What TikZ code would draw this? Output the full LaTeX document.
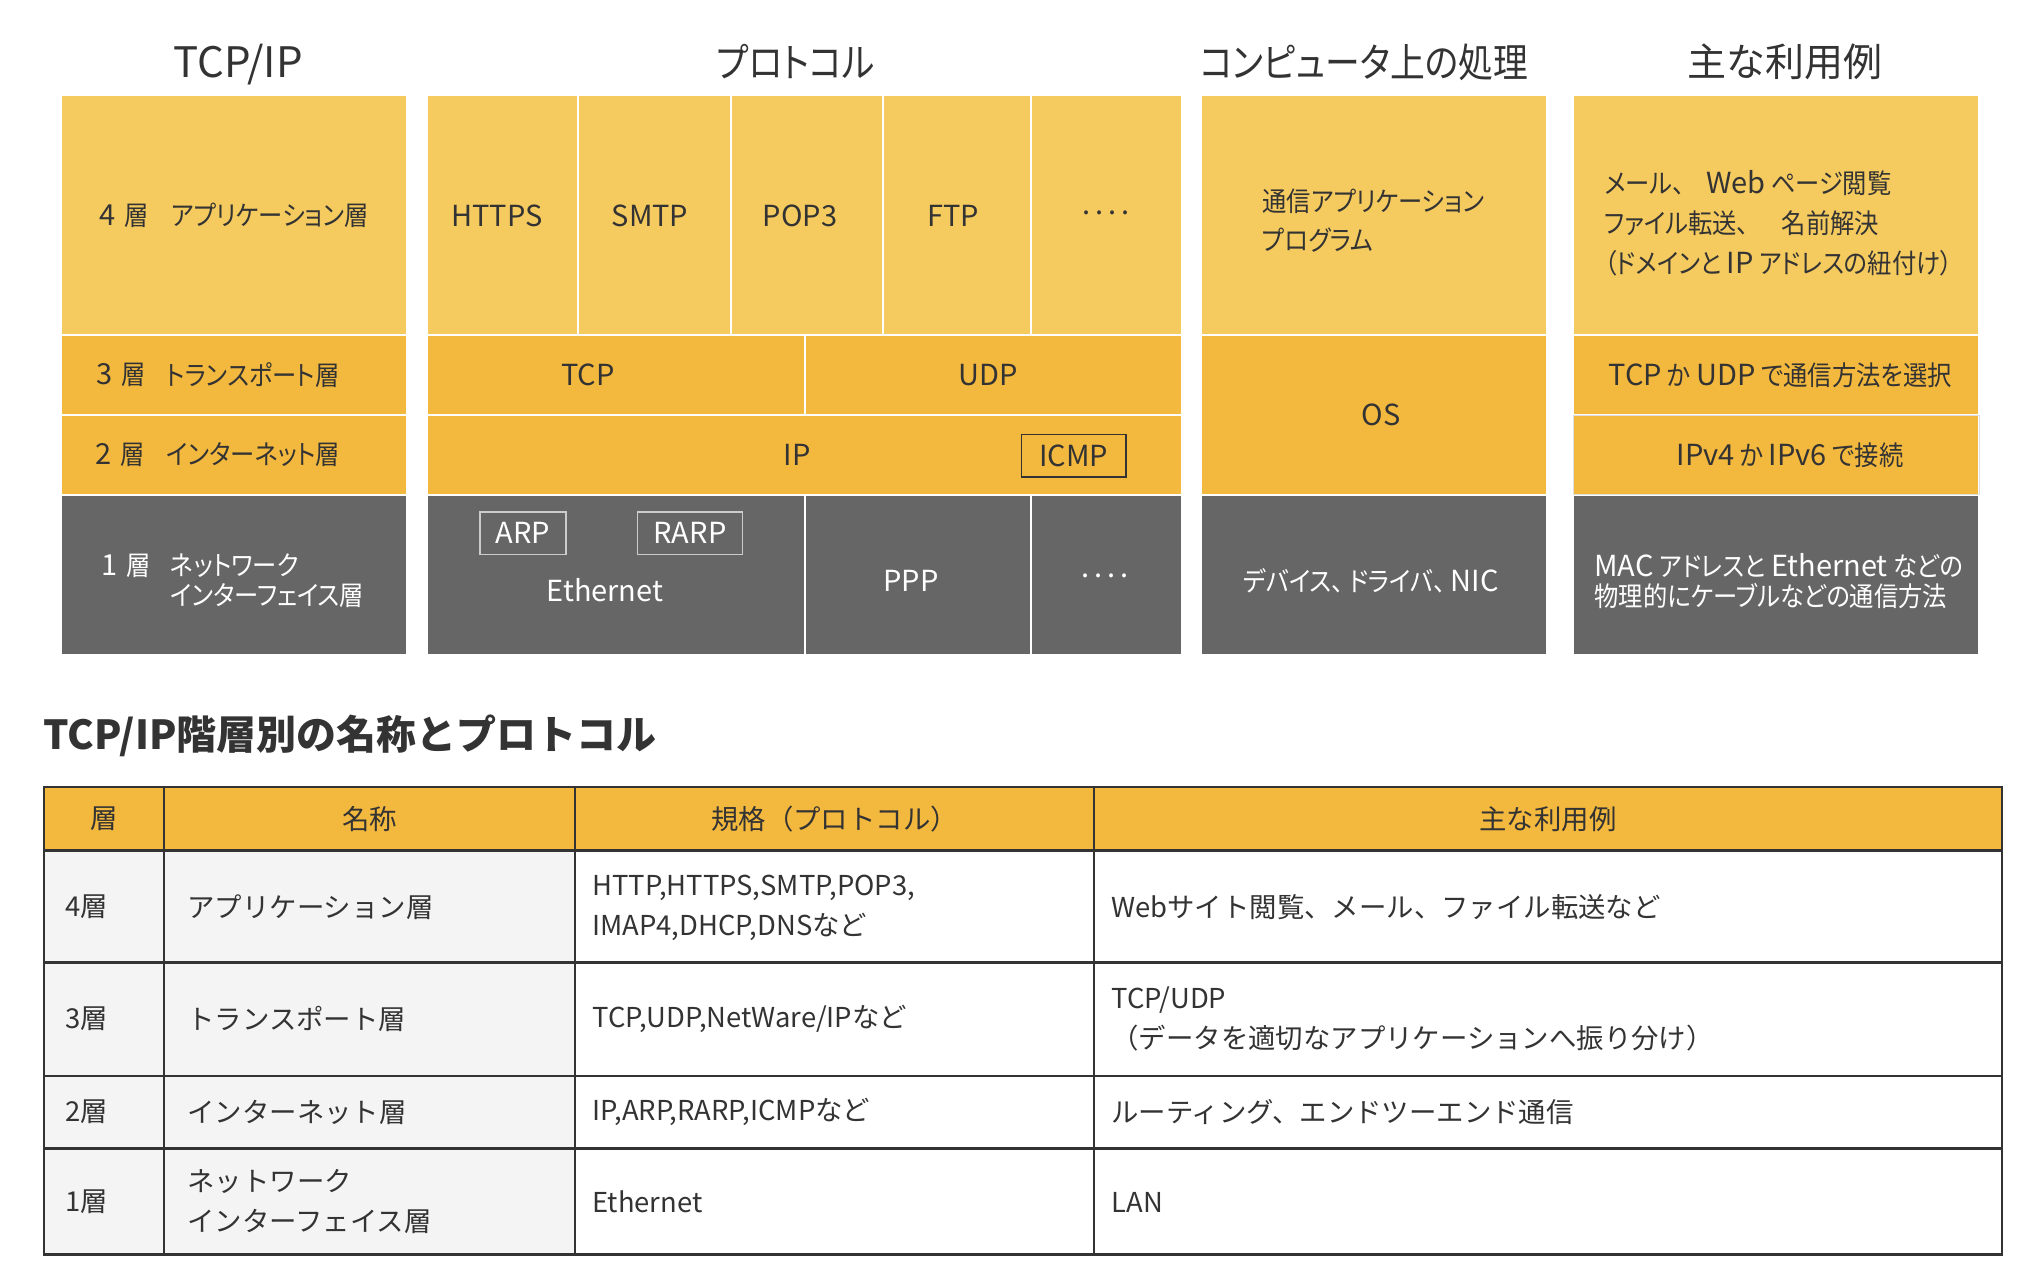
\documentclass[tikz,border=0pt]{standalone}
\usepackage{fontspec}
\setmainfont{Noto Sans CJK JP}
\newfontfamily\jpp[RawFeature=+palt,FakeStretch=0.9]{Noto Sans CJK JP}
\newfontfamily\jpt[RawFeature=+palt,FakeStretch=0.87]{Noto Sans CJK JP}
\newfontfamily\jpq[RawFeature=+palt]{Noto Sans CJK JP}
\newfontfamily\latf{Noto Sans CJK JP}
\newcommand\lat[1]{{\latf\fontsize{14.5}{17}\selectfont #1}}
\definecolor{lightY}{HTML}{F5CB60}
\definecolor{midY}{HTML}{F3B83E}
\definecolor{grayC}{HTML}{666666}
\definecolor{txtC}{HTML}{333333}
\definecolor{tabline}{HTML}{333333}
\definecolor{rowgray}{HTML}{F4F4F4}
\newcommand\cellbox[7]{%
  \node[#6,minimum width={(#4-#2)*0.5pt},minimum height={(#5-#3)*0.5pt}] (#1) at ({(#2+#4)/2},{(#3+#5)/2}) {#7};}
\begin{document}
\begin{tikzpicture}[x=0.5pt,y=-0.5pt,
  cellbase/.style={inner sep=0pt,outer sep=0pt,draw=white,line width=1pt},
  lightcell/.style={cellbase,fill=lightY},
  midcell/.style={cellbase,fill=midY},
  darkcell/.style={cellbase,fill=grayC},
  lbl/.style={inner sep=0pt,text=txtC,font=\jpp\fontsize{13.5}{16.2}\selectfont},
  wlbl/.style={lbl,text=white},
  latlbl/.style={inner sep=0pt,text=txtC,font=\latf\fontsize{14.5}{17}\selectfont},
  wlatlbl/.style={latlbl,text=white},
  ttl/.style={inner sep=0pt,text=txtC,font=\jpt\fontsize{20}{24}\selectfont},
  tagbox/.style={latlbl,draw=txtC,line width=0.75pt},
  wtagbox/.style={wlatlbl,draw=gray!40,line width=0.75pt},
  tabcell/.style={inner sep=0pt,outer sep=0pt,draw=tabline,line width=1.25pt},
  tabtxt/.style={inner sep=0pt,text=txtC,font=\fontsize{13.7}{20}\selectfont,align=left,anchor=west},
  tabhead/.style={inner sep=0pt,text=txtC,font=\fontsize{13.7}{20}\selectfont}]
\useasboundingbox[fill=white] (0,0) rectangle (2028,1274);

% titles
\node[latlbl,font=\latf\fontsize{21}{24}\selectfont] (t1) at (238,65) {TCP/IP};
\node[ttl] (t2) at (796,62) {プロトコル};
\node[ttl] (t3) at (1364,62) {コンピュータ上の処理};
\node[ttl,font=\jpq\fontsize{19.5}{24}\selectfont] (t4) at (1785,62) {主な利用例};

% column A
\cellbox{a4}{61}{95}{407}{335}{lightcell}{}
\cellbox{a3}{61}{335}{407}{415}{midcell}{}
\cellbox{a2}{61}{415}{407}{494.5}{midcell}{}
\cellbox{a1}{61}{494.5}{407}{654.5}{darkcell}{}
\node[lbl,anchor=west] (a4n) at (99,215.5) {\lat{4}\hspace{0.35em}層};
\node[lbl,anchor=west] (a4t) at (171,215.5) {アプリケーション層};
\node[lbl,anchor=west] (a3n) at (96,375) {\lat{3}\hspace{0.35em}層};
\node[lbl,anchor=west] (a3t) at (166,375) {トランスポート層};
\node[lbl,anchor=west] (a2n) at (95,455) {\lat{2}\hspace{0.35em}層};
\node[lbl,anchor=west] (a2t) at (166,455) {インターネット層};
\node[wlbl,anchor=west] (a1n) at (101,566) {\lat{1}\hspace{0.35em}層};
\node[wlbl,anchor=west,align=left,font=\jpp\fontsize{13.5}{15}\selectfont] (a1t) at (170,581) {ネットワーク\\インターフェイス層};

% column B
\cellbox{p1}{427}{95}{578}{335}{lightcell}{}
\cellbox{p2}{578}{95}{731}{335}{lightcell}{}
\cellbox{p3}{731}{95}{883}{335}{lightcell}{}
\cellbox{p4}{883}{95}{1031}{335}{lightcell}{}
\cellbox{p5}{1031}{95}{1182}{335}{lightcell}{}
\node[latlbl] (p1t) at (497,215.5) {HTTPS};
\node[latlbl] (p2t) at (650,215.5) {SMTP};
\node[latlbl] (p3t) at (800,215.5) {POP3};
\node[latlbl] (p4t) at (953,215.5) {FTP};
\node[latlbl] (p5t) at (1106,212.5) {.\,.\,.\,.};
\cellbox{tcp}{427}{335}{805}{415}{midcell}{}
\cellbox{udp}{805}{335}{1182}{415}{midcell}{}
\node[latlbl] (tcpt) at (588,375) {TCP};
\node[latlbl] (udpt) at (988,375) {UDP};
\cellbox{ip}{427}{415}{1182}{494.5}{midcell}{}
\node[latlbl] (ipt) at (797,455) {IP};
\node[tagbox,minimum width=52.25pt,minimum height=21.25pt] (icmp) at (1073.75,455.75) {ICMP};
\cellbox{eth}{427}{494.5}{805}{654.5}{darkcell}{}
\cellbox{ppp}{805}{494.5}{1031}{654.5}{darkcell}{}
\cellbox{etc}{1031}{494.5}{1182}{654.5}{darkcell}{}
\node[wtagbox,minimum width=43pt,minimum height=21.25pt] (arp) at (523,533) {ARP};
\node[wtagbox,minimum width=52.5pt,minimum height=21.25pt] (rarp) at (690,533) {RARP};
\node[wlatlbl] (etht) at (605,590) {Ethernet};
\node[wlatlbl] (pppt) at (911,581) {PPP};
\node[wlatlbl] (etct) at (1105,576) {.\,.\,.\,.};

% column C
\cellbox{c4}{1201}{95}{1547}{335}{lightcell}{}
\cellbox{c32}{1201}{335}{1547}{494.5}{midcell}{}
\cellbox{c1}{1201}{494.5}{1547}{654.5}{darkcell}{}
\node[lbl,anchor=west,align=left,font=\jpp\fontsize{13.5}{19.5}\selectfont] (c4t) at (1262,221) {通信アプリケーション\\プログラム};
\node[latlbl] (c32t) at (1381,415) {OS};
\node[wlbl] (c1t) at (1371,581) {デバイス、\kern0.2em ドライバ、\kern0.2em\lat{NIC}};

% column D
\cellbox{u4}{1573}{95}{1979}{335}{lightcell}{}
\cellbox{u3}{1573}{335}{1979}{415}{midcell}{}
\cellbox{u2}{1573}{415}{1979}{494.5}{midcell}{}
\cellbox{u1}{1573}{494.5}{1979}{654.5}{darkcell}{}
\draw[gray!25,line width=0.5pt] (u2.north west) rectangle (u2.south east);
\node[lbl,anchor=west,align=left,font=\jpp\fontsize{13.5}{20}\selectfont] (u4t) at (1604,223) {メール、\kern0.8em\lat{Web} ページ閲覧\\ファイル転送、\kern1.2em 名前解決\\（ドメインと \lat{IP} アドレスの紐付け）};
\node[lbl] (u3t) at (1780,375) {\lat{TCP} か \lat{UDP} で通信方法を選択};
\node[lbl] (u2t) at (1790,455) {\lat{IPv4} か \lat{IPv6} で接続};
\node[wlbl,anchor=west,align=left,font=\jpp\fontsize{13.5}{15}\selectfont] (u1t) at (1594,581) {\lat{MAC} アドレスと \lat{Ethernet} などの\\物理的にケーブルなどの通信方法};

% table title
\node[inner sep=0pt,anchor=west,text=txtC,font=\bfseries\fontsize{20}{24}\selectfont] (tabtitle) at (43,736) {TCP/IP階層別の名称とプロトコル};

% table header
\cellbox{h1}{44}{787}{164}{850.5}{tabcell,fill=midY}{}
\cellbox{h2}{164}{787}{575}{850.5}{tabcell,fill=midY}{}
\cellbox{h3}{575}{787}{1094}{850.5}{tabcell,fill=midY}{}
\cellbox{h4}{1094}{787}{2002}{850.5}{tabcell,fill=midY}{}
\node[tabhead] (h1t) at (104,819) {層};
\node[tabhead] (h2t) at (369.5,819) {名称};
\node[tabhead] (h3t) at (834.5,819) {規格（プロトコル）};
\node[tabhead] (h4t) at (1548,819) {主な利用例};

% row 4
\cellbox{r4a}{44}{850.5}{164}{962.6}{tabcell,fill=rowgray}{}
\cellbox{r4b}{164}{850.5}{575}{962.6}{tabcell,fill=rowgray}{}
\cellbox{r4c}{575}{850.5}{1094}{962.6}{tabcell,fill=white}{}
\cellbox{r4d}{1094}{850.5}{2002}{962.6}{tabcell,fill=white}{}
\node[tabtxt] (r4at) at (65,907) {4層};
\node[tabtxt] (r4bt) at (187,907) {アプリケーション層};
\node[tabtxt] (r4ct) at (592,908) {HTTP,HTTPS,SMTP,POP3,\\IMAP4,DHCP,DNSなど};
\node[tabtxt] (r4dt) at (1111,907) {Webサイト閲覧、メール、ファイル転送など};

% row 3
\cellbox{r3a}{44}{962.6}{164}{1075.8}{tabcell,fill=rowgray}{}
\cellbox{r3b}{164}{962.6}{575}{1075.8}{tabcell,fill=rowgray}{}
\cellbox{r3c}{575}{962.6}{1094}{1075.8}{tabcell,fill=white}{}
\cellbox{r3d}{1094}{962.6}{2002}{1075.8}{tabcell,fill=white}{}
\node[tabtxt] (r3at) at (65,1019) {3層};
\node[tabtxt] (r3bt) at (187,1019) {トランスポート層};
\node[tabtxt] (r3ct) at (592,1019) {TCP,UDP,NetWare/IPなど};
\node[tabtxt] (r3dt) at (1111,1019) {TCP/UDP\\（データを適切なアプリケーションへ振り分け）};

% row 2
\cellbox{r2a}{44}{1075.8}{164}{1148.6}{tabcell,fill=rowgray}{}
\cellbox{r2b}{164}{1075.8}{575}{1148.6}{tabcell,fill=rowgray}{}
\cellbox{r2c}{575}{1075.8}{1094}{1148.6}{tabcell,fill=white}{}
\cellbox{r2d}{1094}{1075.8}{2002}{1148.6}{tabcell,fill=white}{}
\node[tabtxt] (r2at) at (65,1112) {2層};
\node[tabtxt] (r2bt) at (187,1112) {インターネット層};
\node[tabtxt] (r2ct) at (592,1112) {IP,ARP,RARP,ICMPなど};
\node[tabtxt] (r2dt) at (1111,1112) {ルーティング、エンドツーエンド通信};

% row 1
\cellbox{r1a}{44}{1148.6}{164}{1254.6}{tabcell,fill=rowgray}{}
\cellbox{r1b}{164}{1148.6}{575}{1254.6}{tabcell,fill=rowgray}{}
\cellbox{r1c}{575}{1148.6}{1094}{1254.6}{tabcell,fill=white}{}
\cellbox{r1d}{1094}{1148.6}{2002}{1254.6}{tabcell,fill=white}{}
\node[tabtxt] (r1at) at (65,1202) {1層};
\node[tabtxt] (r1bt) at (187,1202) {ネットワーク\\インターフェイス層};
\node[tabtxt] (r1ct) at (592,1202) {Ethernet};
\node[tabtxt] (r1dt) at (1111,1202) {LAN};
\end{tikzpicture}
\end{document}
